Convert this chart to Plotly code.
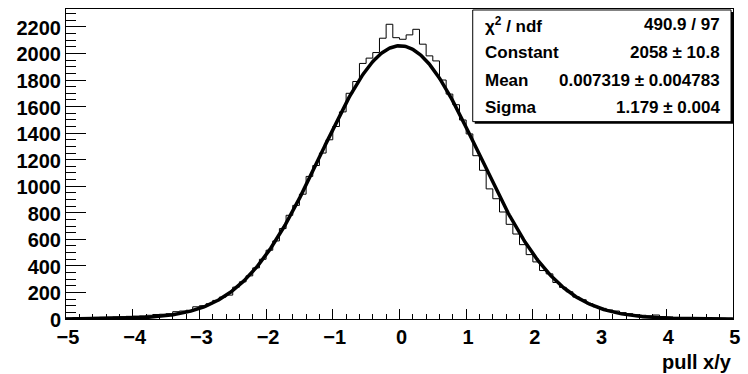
import numpy as np
import plotly.graph_objects as go

# ---- data ----
bin_lo, bin_hi, n_bins = -5.0, 5.0, 100
counts = [
    6, 10, 9, 11, 12, 13, 14, 16, 17, 20,          # -5.0 .. -4.0
    22, 24, 28, 34, 36, 40, 55, 60, 66, 92,        # -4.0 .. -3.0
    100, 115, 140, 165, 180, 240, 280, 325, 385, 450,   # -3.0 .. -2.0
    518, 588, 681, 781, 856, 940, 1074, 1156, 1250, 1350,  # -2.0 .. -1.0
    1450, 1560, 1700, 1789, 1925, 1965, 2007, 2115, 2220, 2119,  # -1.0 .. 0.0
    2107, 2140, 2182, 2070, 1982, 1944, 1800, 1694, 1614, 1499,  # 0.0 .. 1.0
    1394, 1230, 1120, 980, 906, 806, 713, 640, 560, 485,   # 1.0 .. 2.0
    430, 365, 340, 275, 238, 205, 165, 145, 115, 92,       # 2.0 .. 3.0
    80, 68, 60, 48, 40, 32, 28, 24, 30, 18,                # 3.0 .. 4.0
    16, 12, 11, 10, 8, 8, 6, 6, 5, 4,                      # 4.0 .. 5.0
]
fit_constant = 2058.0
fit_mean = 0.007319
fit_sigma = 1.179
stats_labels = ["χ<sup>2</sup> / ndf", "Constant", "Mean", "Sigma"]
stats_values = ["490.9 / 97", "2058 ± 10.8", "0.007319 ± 0.004783", "1.179 ± 0.004"]
x_tick_vals = [-5, -4, -3, -2, -1, 0, 1, 2, 3, 4, 5]
x_tick_text = ["−5", "−4", "−3", "−2", "−1", "0", "1", "2", "3", "4", "5"]
x_title = "pull x/y"

edges = np.linspace(bin_lo, bin_hi, n_bins + 1)
step_y = list(counts) + [counts[-1]]

fx = np.linspace(bin_lo, bin_hi, 600)
fy = fit_constant * np.exp(-0.5 * ((fx - fit_mean) / fit_sigma) ** 2)

W, H = 748, 374
ml, mr, mt, mb = 66, 8, 8, 55
pw, ph = W - ml - mr, H - mt - mb

fig = go.Figure()
fig.add_trace(go.Scatter(x=edges, y=step_y, mode="lines", line=dict(color="black", width=1, shape="hv"),
                         hoverinfo="skip", showlegend=False))
fig.add_trace(go.Scatter(x=fx, y=fy, mode="lines", line=dict(color="black", width=3.5),
                         hoverinfo="skip", showlegend=False))

tf = dict(family="Liberation Sans, Arial, sans-serif", size=20, color="black", weight="bold")

fig.update_layout(
    width=W, height=H, margin=dict(l=ml, r=mr, t=mt, b=mb),
    paper_bgcolor="white", plot_bgcolor="white",
    xaxis=dict(range=[bin_lo, bin_hi + 0.001], showgrid=False, zeroline=False, showline=True, mirror=True,
               linecolor="black", linewidth=1, ticks="inside", ticklen=10, tickwidth=1, tickcolor="black",
               tickmode="array", tickvals=x_tick_vals, ticktext=x_tick_text, tickfont=tf, ticklabelshift=2,
               minor=dict(ticks="inside", ticklen=5, dtick=0.2, tick0=0, tickcolor="black", showgrid=False)),
    yaxis=dict(range=[0, 2335], showgrid=False, zeroline=False, showline=True, mirror=True,
               linecolor="black", linewidth=1, ticks="inside", ticklen=20, tickwidth=1, tickcolor="black",
               dtick=200, tick0=0, tickfont=tf, ticklabelshift=1,
               minor=dict(ticks="inside", ticklen=10, dtick=50, tick0=0, tickcolor="black", showgrid=False)),
)

def px2paper_x(px):
    return (px - ml) / pw

def px2paper_y(py):
    return 1 - (py - mt) / ph

# stats box with ROOT-style shadow
bx0, bx1, by0, by1 = 477, 738, 9, 121
fig.add_shape(type="rect", xref="paper", yref="paper",
              x0=px2paper_x(bx0 + 2), x1=px2paper_x(bx1 + 2), y0=px2paper_y(by1 + 2), y1=px2paper_y(by0 + 2),
              fillcolor="black", line=dict(width=0))
fig.add_shape(type="rect", xref="paper", yref="paper",
              x0=px2paper_x(bx0), x1=px2paper_x(bx1), y0=px2paper_y(by1), y1=px2paper_y(by0),
              fillcolor="white", line=dict(color="black", width=1))

sf = dict(family="Liberation Sans, Arial, sans-serif", size=17, color="black", weight="bold")
row_y = [24, 52, 80, 107]
for lab, val, ry in zip(stats_labels, stats_values, row_y):
    fig.add_annotation(xref="paper", yref="paper", x=px2paper_x(487), y=px2paper_y(ry),
                       text=lab, showarrow=False, xanchor="left", yanchor="middle", font=sf)
    fig.add_annotation(xref="paper", yref="paper", x=px2paper_x(729), y=px2paper_y(ry),
                       text=val, showarrow=False, xanchor="right", yanchor="middle", font=sf)

fig.add_annotation(xref="paper", yref="paper", x=px2paper_x(741), y=px2paper_y(362),
                   text=x_title, showarrow=False, xanchor="right", yanchor="middle", font=tf)

fig.write_html("out.html")
